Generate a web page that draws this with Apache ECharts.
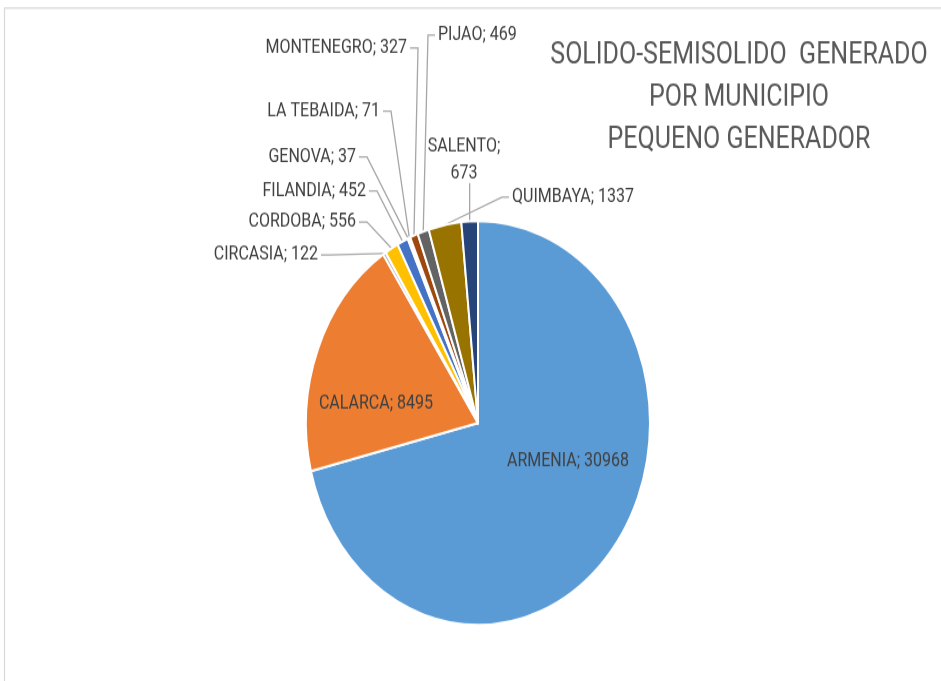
<!DOCTYPE html>
<html>
<head>
<meta charset="utf-8">
<script src="https://cdn.jsdelivr.net/npm/echarts@6/dist/echarts.min.js"></script>
<style>
  html, body { margin: 0; padding: 0; background: #fff; }
  #wrap { width: 941px; height: 681px; position: relative; }
  /* the source picture is stretched vertically, so the chart is drawn squat and scaled */
  #chart { position: absolute; left: 0; top: 0; width: 941px; height: 580px;
           transform: scaleY(1.17414); transform-origin: 0 0; }
</style>
</head>
<body>
<div id="wrap"><div id="chart"></div></div>
<script>
const municipios = ['ARMENIA', 'CALARCA', 'CIRCASIA', 'CORDOBA', 'FILANDIA', 'GENOVA',
  'LA TEBAIDA', 'MONTENEGRO', 'PIJAO', 'QUIMBAYA', 'SALENTO'];
const toneladas = [30968, 8495, 122, 556, 452, 37, 71, 327, 469, 1337, 673];

const colores = ['#5B9BD5', '#ED7D31', '#A5A5A5', '#FFC000', '#4472C4', '#70AD47',
  '#255E91', '#9E480E', '#636363', '#997300', '#264478'];

const S = 681 / 580;
// label anchors in picture pixels: [x, y, align]
const labelSpots = [
  [568, 461, 'center'], [376, 404, 'center'],
  [318, 255, 'right'], [356, 222, 'right'], [366, 191, 'right'], [356, 157, 'right'],
  [380, 111, 'right'], [407, 48, 'right'], [438, 35, 'left'],
  [512, 197, 'left'], [464, 160, 'center']
];

const chart = echarts.init(document.getElementById('chart'));

const data = municipios.map((name, i) => ({
  name: name,
  value: toneladas[i],
  label: i < 2 ? { position: 'inside' } : { position: 'outside' },
  labelLine: { show: i >= 2 }
}));

chart.setOption({
  color: colores,
  animation: false,
  graphic: [{
    type: 'rect',
    shape: { x: 4.5, y: 8 / S, width: 1000, height: 1000 },
    style: { fill: 'none', stroke: '#d9d9d9', lineWidth: 1.2 },
    silent: true
  }],
  title: {
    text: 'SOLIDO-SEMISOLIDO  GENERADO\nPOR MUNICIPIO\nPEQUENO GENERADOR',
    left: 734,
    top: 25,
    textAlign: 'center',
    textStyle: {
      fontFamily: 'Roboto', fontSize: 25, fontWeight: 'normal',
      color: '#595959', lineHeight: 36
    }
  },
  series: [{
    type: 'pie',
    center: [478, 423 / S],
    radius: 172,
    startAngle: 90,
    avoidLabelOverlap: false,
    itemStyle: { borderColor: '#fff', borderWidth: 2 },
    label: {
      show: true,
      fontFamily: 'Roboto',
      fontSize: 16,
      color: '#404040',
      lineHeight: 23,
      formatter: p => p.name === 'SALENTO' ? p.name + ';\n' + p.value : p.name + '; ' + p.value
    },
    labelLine: { lineStyle: { color: '#a6a6a6', width: 1.3 } },
    labelLayout: function (params) {
      const i = params.dataIndex;
      const s = labelSpots[i];
      const x = s[0], y = s[1] / S, align = s[2];
      if (i < 2) {
        return { x: x, y: y, align: 'center', verticalAlign: 'middle' };
      }
      const start = params.labelLinePoints ? params.labelLinePoints[0] : [x, y];
      let pts;
      if (align === 'right') {
        pts = [start, [x + 11, y], [x + 3, y]];
      } else if (align === 'left') {
        pts = [start, [x - 10, y], [x - 3, y]];
      } else {
        pts = [start, [start[0], 183 / S]];
      }
      return { x: x, y: y, align: align, verticalAlign: 'middle', labelLinePoints: pts };
    },
    data: data
  }]
});
</script>
</body>
</html>
